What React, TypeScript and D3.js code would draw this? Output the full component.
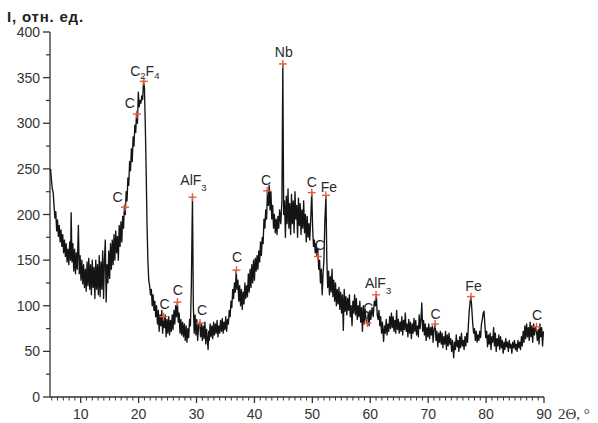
import React from 'react';
import * as d3 from 'd3';

const W = 598;
const H = 423;

// 2Θ (deg) and intensity (rel. units)
const pattern: [number, number][] = [
  [4.8, 250], [4.95, 238], [5.1, 228], [5.25, 224], [5.4, 210], [5.55, 196], [5.7, 203], [5.85, 182],
  [6.0, 194], [6.15, 176], [6.3, 188], [6.45, 170], [6.6, 183], [6.75, 165], [6.9, 178], [7.05, 158],
  [7.2, 172], [7.35, 154], [7.5, 168], [7.65, 148], [7.8, 162], [7.95, 145], [8.1, 170], [8.25, 150],
  [8.35, 202], [8.5, 148], [8.65, 168], [8.8, 138], [8.95, 162], [9.1, 135], [9.25, 158], [9.4, 140],
  [9.6, 188], [9.75, 135], [9.9, 155], [10.05, 128], [10.2, 150], [10.35, 124], [10.5, 145], [10.65, 120],
  [10.8, 140], [10.95, 116], [11.1, 148], [11.25, 122], [11.4, 152], [11.55, 118], [11.7, 145], [11.85, 112],
  [12.0, 150], [12.15, 120], [12.3, 142], [12.45, 108], [12.6, 150], [12.75, 118], [12.9, 145], [13.05, 112],
  [13.2, 155], [13.35, 110], [13.5, 148], [13.65, 118], [13.8, 160], [13.95, 108], [14.1, 150], [14.25, 172],
  [14.4, 104], [14.55, 145], [14.7, 125], [14.85, 160], [15.0, 130], [15.15, 168], [15.3, 140], [15.45, 172],
  [15.6, 145], [15.75, 178], [15.9, 150], [16.05, 182], [16.2, 158], [16.35, 176], [16.5, 150], [16.65, 188],
  [16.8, 165], [16.95, 192], [17.1, 170], [17.25, 198], [17.4, 185], [17.55, 210], [17.7, 200], [17.85, 225],
  [18.0, 215], [18.15, 240], [18.3, 232], [18.45, 258], [18.6, 248], [18.75, 272], [18.9, 258], [19.05, 285],
  [19.2, 275], [19.35, 298], [19.5, 290], [19.65, 312], [19.8, 300], [19.95, 334], [20.1, 318], [20.25, 325],
  [20.4, 322], [20.55, 330], [20.7, 326], [20.85, 346], [21.0, 340], [21.15, 300], [21.3, 250], [21.45, 190],
  [21.6, 150], [21.75, 128], [21.9, 122], [22.05, 112], [22.2, 118], [22.35, 100], [22.5, 112], [22.65, 95],
  [22.8, 105], [22.95, 88], [23.1, 100], [23.25, 80], [23.4, 95], [23.55, 72], [23.7, 90], [23.85, 78],
  [24.0, 95], [24.15, 70], [24.3, 88], [24.45, 76], [24.6, 90], [24.75, 66], [24.9, 85], [25.05, 70],
  [25.2, 88], [25.35, 68], [25.5, 84], [25.65, 72], [25.8, 90], [25.95, 74], [26.1, 95], [26.25, 80],
  [26.4, 100], [26.55, 88], [26.7, 104], [26.85, 82], [27.0, 92], [27.15, 70], [27.3, 85], [27.45, 68],
  [27.6, 82], [27.75, 66], [27.9, 80], [28.05, 62], [28.2, 78], [28.35, 60], [28.5, 75], [28.65, 65],
  [28.8, 85], [28.95, 78], [29.1, 120], [29.3, 219], [29.45, 100], [29.6, 70], [29.75, 90], [29.9, 68],
  [30.05, 85], [30.2, 62], [30.35, 78], [30.55, 82], [30.7, 66], [30.85, 80], [31.0, 62], [31.15, 78],
  [31.3, 64], [31.45, 82], [31.6, 58], [31.75, 74], [31.9, 60], [32.0, 52], [32.1, 72], [32.2, 62],
  [32.35, 80], [32.5, 66], [32.65, 78], [32.8, 64], [32.95, 82], [33.1, 68], [33.25, 80], [33.4, 70],
  [33.55, 84], [33.7, 66], [33.85, 78], [34.0, 70], [34.15, 84], [34.3, 72], [34.45, 86], [34.6, 70],
  [34.75, 82], [34.9, 74], [35.05, 88], [35.2, 72], [35.35, 85], [35.5, 80], [35.65, 95], [35.8, 88],
  [35.95, 105], [36.1, 98], [36.25, 118], [36.4, 108], [36.55, 125], [36.7, 115], [36.85, 139], [37.0, 118],
  [37.15, 128], [37.3, 105], [37.45, 122], [37.6, 100], [37.75, 118], [37.9, 96], [38.05, 115], [38.2, 102],
  [38.35, 125], [38.5, 108], [38.65, 122], [38.8, 110], [38.95, 135], [39.1, 115], [39.25, 140], [39.4, 120],
  [39.55, 145], [39.7, 125], [39.85, 150], [40.0, 128], [40.15, 152], [40.3, 138], [40.45, 155], [40.6, 140],
  [40.75, 160], [40.9, 148], [41.05, 170], [41.2, 155], [41.35, 175], [41.5, 168], [41.65, 195], [41.8, 185],
  [41.95, 205], [42.1, 195], [42.25, 226], [42.4, 210], [42.55, 232], [42.7, 205], [42.85, 225], [43.0, 195],
  [43.15, 210], [43.3, 185], [43.45, 200], [43.6, 180], [43.75, 195], [43.9, 178], [44.05, 198], [44.2, 185],
  [44.35, 205], [44.55, 190], [44.75, 215], [44.9, 365], [45.05, 200], [45.2, 215], [45.35, 175], [45.5, 220],
  [45.65, 190], [45.8, 228], [45.95, 185], [46.1, 212], [46.25, 178], [46.4, 222], [46.55, 190], [46.7, 215],
  [46.85, 180], [47.0, 225], [47.15, 195], [47.3, 210], [47.45, 175], [47.6, 218], [47.75, 188], [47.9, 212],
  [48.05, 178], [48.2, 205], [48.35, 185], [48.5, 215], [48.65, 180], [48.8, 200], [48.95, 170], [49.1, 198],
  [49.25, 175], [49.4, 190], [49.55, 172], [49.75, 200], [49.9, 225], [50.05, 185], [50.2, 165], [50.35, 172],
  [50.5, 158], [50.65, 168], [50.8, 154], [50.95, 162], [51.1, 140], [51.25, 150], [51.4, 125], [51.55, 140],
  [51.7, 112], [51.85, 135], [52.0, 150], [52.15, 190], [52.35, 221], [52.5, 150], [52.65, 120], [52.8, 138],
  [52.95, 112], [53.1, 132], [53.25, 115], [53.4, 140], [53.55, 110], [53.7, 128], [53.85, 105], [54.0, 125],
  [54.15, 100], [54.3, 118], [54.45, 102], [54.6, 120], [54.75, 96], [54.9, 115], [55.05, 92], [55.2, 112],
  [55.35, 73], [55.5, 118], [55.65, 94], [55.8, 110], [55.95, 90], [56.1, 108], [56.25, 95], [56.4, 112],
  [56.55, 88], [56.7, 100], [56.85, 78], [57.0, 105], [57.15, 92], [57.3, 112], [57.45, 90], [57.6, 108],
  [57.75, 85], [57.9, 100], [58.05, 88], [58.2, 105], [58.35, 82], [58.5, 98], [58.65, 72], [58.8, 100],
  [58.95, 80], [59.1, 96], [59.3, 84], [59.5, 80], [59.65, 92], [59.8, 78], [59.95, 95], [60.1, 85],
  [60.3, 98], [60.5, 88], [60.7, 105], [60.9, 100], [61.05, 112], [61.2, 90], [61.35, 85], [61.5, 95],
  [61.65, 78], [61.8, 88], [61.95, 70], [62.1, 82], [62.3, 61], [62.45, 78], [62.6, 70], [62.75, 85],
  [62.9, 68], [63.05, 80], [63.2, 72], [63.35, 88], [63.5, 75], [63.65, 92], [63.8, 76], [63.95, 88],
  [64.1, 72], [64.25, 84], [64.4, 70], [64.55, 95], [64.7, 74], [64.85, 85], [65.0, 70], [65.15, 82],
  [65.3, 72], [65.45, 88], [65.6, 68], [65.75, 84], [65.9, 74], [66.05, 92], [66.2, 72], [66.35, 80],
  [66.5, 66], [66.65, 85], [66.8, 70], [66.95, 82], [67.1, 64], [67.25, 80], [67.4, 70], [67.55, 86],
  [67.7, 72], [67.85, 84], [68.0, 68], [68.15, 78], [68.3, 66], [68.45, 90], [68.6, 75], [68.75, 85],
  [68.9, 103], [69.05, 72], [69.2, 84], [69.35, 68], [69.5, 80], [69.65, 62], [69.8, 76], [69.95, 66],
  [70.1, 80], [70.25, 64], [70.4, 76], [70.55, 68], [70.7, 78], [70.85, 60], [71.0, 74], [71.2, 80],
  [71.35, 62], [71.5, 72], [71.65, 55], [71.8, 70], [71.95, 60], [72.1, 72], [72.25, 58], [72.4, 70],
  [72.55, 54], [72.7, 66], [72.85, 58], [73.0, 72], [73.15, 52], [73.3, 68], [73.45, 56], [73.6, 70],
  [73.75, 58], [73.9, 64], [74.05, 50], [74.2, 62], [74.4, 43], [74.55, 60], [74.7, 52], [74.85, 68],
  [75.0, 55], [75.15, 62], [75.3, 50], [75.45, 66], [75.6, 54], [75.75, 70], [75.9, 56], [76.05, 62],
  [76.2, 52], [76.35, 66], [76.5, 56], [76.65, 70], [76.8, 60], [76.95, 80], [77.1, 95], [77.25, 105],
  [77.4, 110], [77.55, 95], [77.7, 80], [77.85, 70], [78.0, 75], [78.15, 62], [78.3, 72], [78.45, 60],
  [78.6, 68], [78.75, 62], [78.9, 72], [79.05, 65], [79.2, 80], [79.35, 85], [79.5, 92], [79.65, 94],
  [79.8, 78], [79.95, 65], [80.1, 72], [80.25, 55], [80.4, 68], [80.55, 58], [80.7, 70], [80.85, 52],
  [81.0, 66], [81.15, 60], [81.3, 76], [81.45, 56], [81.6, 70], [81.75, 50], [81.9, 64], [82.05, 56],
  [82.2, 68], [82.35, 52], [82.5, 66], [82.65, 54], [82.8, 62], [82.95, 48], [83.1, 60], [83.25, 52],
  [83.4, 64], [83.55, 55], [83.7, 60], [83.85, 50], [84.0, 62], [84.15, 54], [84.3, 58], [84.45, 48],
  [84.6, 60], [84.75, 54], [84.9, 62], [85.05, 52], [85.2, 58], [85.35, 50], [85.5, 62], [85.65, 54],
  [85.8, 60], [85.95, 52], [86.1, 66], [86.25, 56], [86.4, 72], [86.55, 60], [86.7, 78], [86.85, 64],
  [87.0, 80], [87.15, 66], [87.3, 76], [87.45, 62], [87.6, 82], [87.75, 66], [87.9, 78], [88.05, 60],
  [88.2, 80], [88.35, 68], [88.55, 77], [88.7, 72], [88.85, 62], [89.0, 74], [89.15, 58], [89.3, 80],
  [89.45, 66], [89.6, 76], [89.75, 56], [89.9, 72],
];

// identified reflections
const peakTheta = [17.65, 19.7, 20.9, 24.3, 26.7, 29.3, 30.6, 36.9, 42.2, 44.9, 49.9, 52.35, 50.95, 59.5, 61.0, 71.2, 77.4, 88.7];
const peakIntensity = [208, 310, 346, 88, 104, 219, 81, 139, 226, 365, 224, 221, 154, 81, 112, 80, 110, 77];
const peakPhase = ['C', 'C', 'C2F4', 'C', 'C', 'AlF3', 'C', 'C', 'C', 'Nb', 'C', 'Fe', 'C', 'C', 'AlF3', 'C', 'Fe', 'C'];

const xMajorTicks = [10, 20, 30, 40, 50, 60, 70, 80, 90];
const yMajorTicks = [0, 50, 100, 150, 200, 250, 300, 350, 400];
const yTitle = 'I, отн. ед.';
const xTitle = '2Θ, °';

// label placement relative to its marker (layout only)
const labelDx = [-7.5, -7, 1, 1, 0.5, 1, 2, 0.5, -1, 1, 0, 3, 2, 1, 2, 0.5, 2.5, 0.5];
const labelDy = [-5, -6, -5, -8, -7, -12, -8, -8, -6, -7, -6, -3, -6, -10, -7, -5, -6, -7];
const subShift = [0, 0, 3, 0, 0, 6, 0, 0, 0, 0, 0, 0, 0, 0, 6, 0, 0, 0];

const FONT = '"Liberation Sans", Arial, Helvetica, sans-serif';

function PhaseLabel({ x, y, text, shift }: { x: number; y: number; text: string; shift: number }) {
  const parts: { s: string; sub: boolean }[] = [];
  for (const ch of text) {
    const sub = /[0-9]/.test(ch);
    const last = parts[parts.length - 1];
    if (last && last.sub === sub) last.s += ch;
    else parts.push({ s: ch, sub });
  }
  let cur = 0;
  return (
    <text x={x} y={y} textAnchor="middle" fontFamily={FONT} fontSize={14} fill="#2a2a2a">
      {parts.map((p, i) => {
        const target = p.sub ? shift : 0;
        const dy = target - cur;
        cur = target;
        return (
          <tspan key={i} dy={dy} fontSize={p.sub ? 9.5 : 14}>
            {p.s}
          </tspan>
        );
      })}
    </text>
  );
}

export default function App() {
  const x = d3.scaleLinear().domain([4.7, 90]).range([50, 544]);
  const y = d3.scaleLinear().domain([0, 400]).range([397, 32]);

  const line = d3
    .line<[number, number]>()
    .x((d) => x(d[0]))
    .y((d) => y(d[1]))
    .curve(d3.curveLinear);

  const xMinor = d3.range(5, 90, 1).filter((v) => v % 10 !== 0);
  const yMinor = d3.range(25, 400, 50);

  const axisColor = '#333';

  return (
    <svg
      width={W}
      height={H}
      viewBox={`0 0 ${W} ${H}`}
      style={{ position: 'absolute', left: 0, top: 0, background: '#fff' }}
    >
      <rect width={W} height={H} fill="#fff" />

      {/* y axis */}
      <line x1={50} x2={50} y1={y(0)} y2={y(400)} stroke={axisColor} strokeWidth={1.3} />
      {yMajorTicks.map((t) => (
        <g key={'ym' + t}>
          <line x1={43} x2={50} y1={y(t)} y2={y(t)} stroke={axisColor} strokeWidth={1.3} />
          <text
            x={40}
            y={y(t) + 5}
            textAnchor="end"
            fontFamily={FONT}
            fontSize={14}
            fill="#333"
          >
            {t}
          </text>
        </g>
      ))}
      {yMinor.map((t) => (
        <line key={'yn' + t} x1={46} x2={50} y1={y(t)} y2={y(t)} stroke={axisColor} strokeWidth={1.2} />
      ))}

      {/* x axis */}
      <line x1={50} x2={x(90)} y1={y(0)} y2={y(0)} stroke={axisColor} strokeWidth={1.3} />
      {xMajorTicks.map((t) => (
        <g key={'xm' + t}>
          <line x1={x(t)} x2={x(t)} y1={y(0)} y2={y(0) + 6} stroke={axisColor} strokeWidth={1.3} />
          <text x={x(t)} y={y(0) + 22} textAnchor="middle" fontFamily={FONT} fontSize={14} fill="#333">
            {t}
          </text>
        </g>
      ))}
      {xMinor.map((t) => (
        <line key={'xn' + t} x1={x(t)} x2={x(t)} y1={y(0)} y2={y(0) + 3.5} stroke={axisColor} strokeWidth={1} />
      ))}

      {/* titles */}
      <text x={7} y={22} fontFamily={FONT} fontSize={15} fontWeight={600} letterSpacing={0.8} fill="#222">
        {yTitle}
      </text>
      <text x={558} y={419} fontFamily='"Liberation Serif", "Times New Roman", serif' fontSize={15} fill="#333">
        {xTitle}
      </text>

      {/* pattern */}
      <path d={line(pattern) || ''} fill="none" stroke="#141414" strokeWidth={1.35} strokeLinejoin="round" />

      {/* reflection markers */}
      {peakTheta.map((t, i) => {
        const cx = x(t);
        const cy = y(peakIntensity[i]);
        return (
          <g key={'p' + i}>
            <line x1={cx - 4} x2={cx + 4} y1={cy} y2={cy} stroke="#e5603c" strokeWidth={1.4} />
            <line x1={cx} x2={cx} y1={cy - 4} y2={cy + 4} stroke="#e5603c" strokeWidth={1.4} />
            <PhaseLabel x={cx + labelDx[i]} y={cy + labelDy[i]} text={peakPhase[i]} shift={subShift[i]} />
          </g>
        );
      })}
    </svg>
  );
}
